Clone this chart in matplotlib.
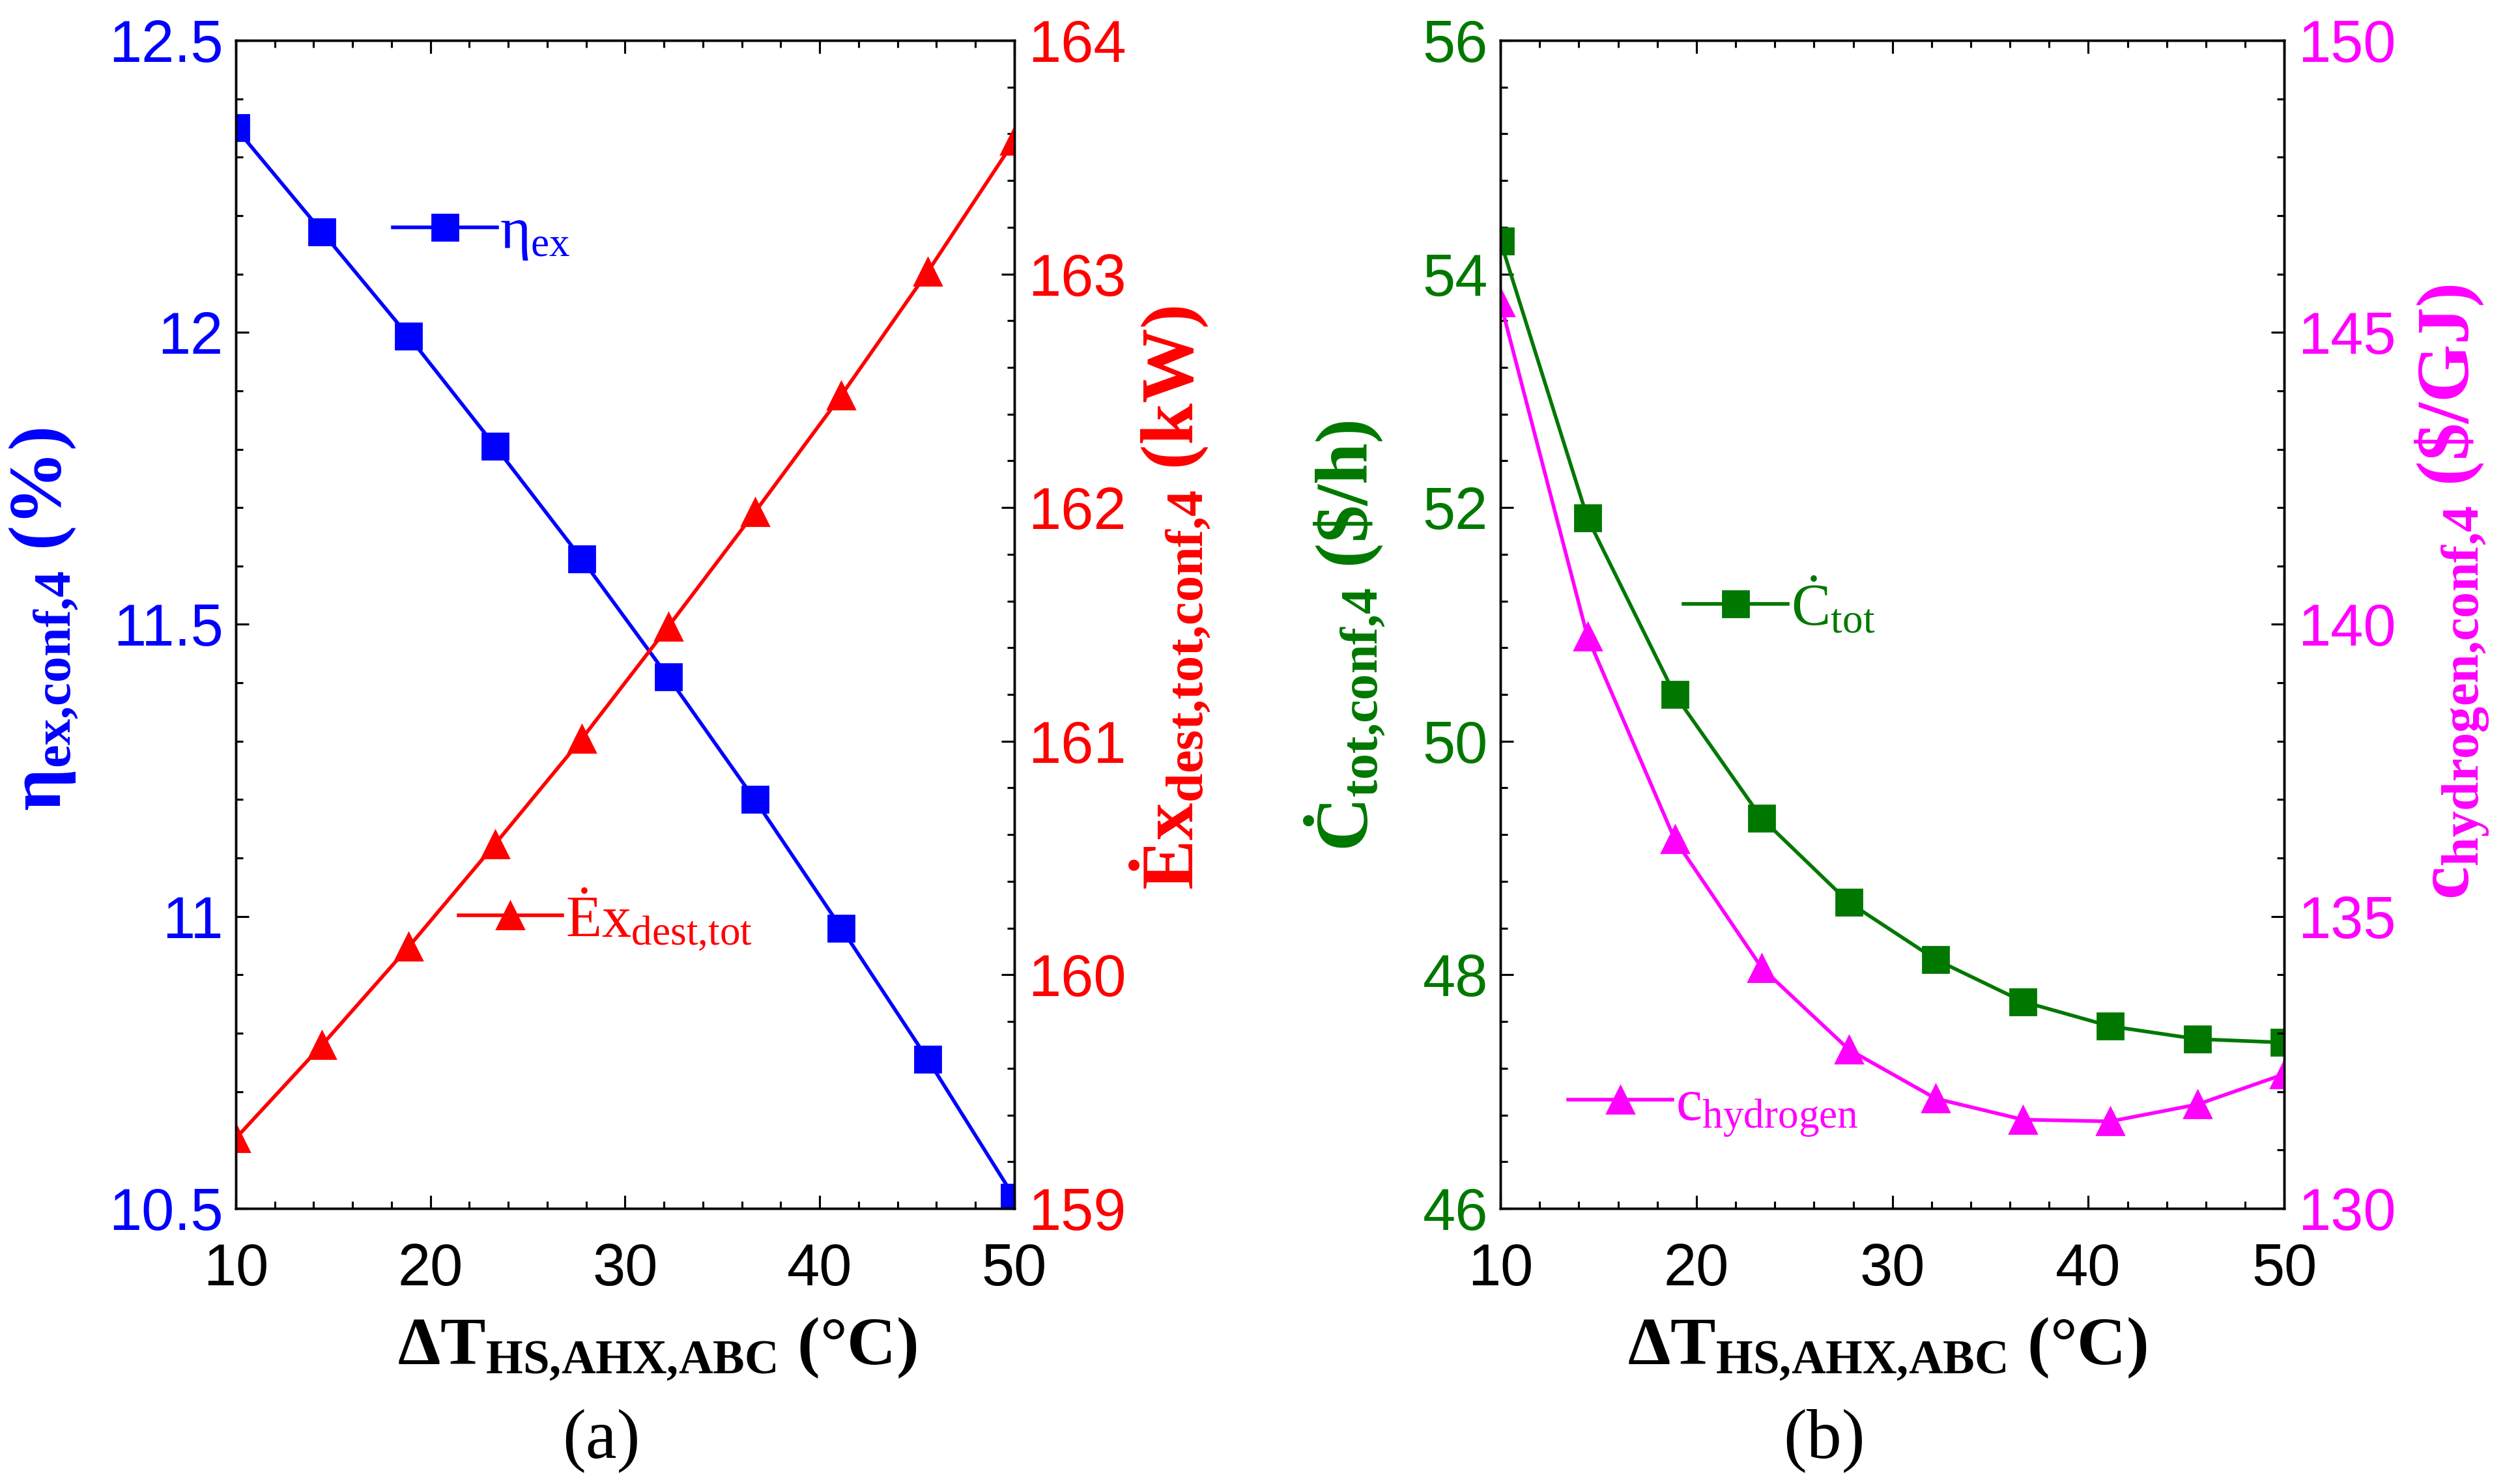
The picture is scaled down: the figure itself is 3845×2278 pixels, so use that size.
import matplotlib
matplotlib.use('Agg')
import matplotlib.pyplot as plt
from matplotlib.ticker import MultipleLocator, FuncFormatter

plt.rcParams['font.family'] = ['Liberation Sans', 'DejaVu Sans']
plt.rcParams['mathtext.fontset'] = 'custom'
plt.rcParams['mathtext.rm'] = 'Liberation Serif'
plt.rcParams['mathtext.it'] = 'Liberation Serif:italic'
plt.rcParams['mathtext.bf'] = 'Liberation Serif:bold'
plt.rcParams['mathtext.default'] = 'regular'

# data
dT = [10, 14.44, 18.89, 23.33, 27.78, 32.22, 36.67, 41.11, 45.56, 50]
eta_ex = [12.35, 12.172, 11.993, 11.805, 11.612, 11.41, 11.2, 10.98, 10.755, 10.519]
ex_dest = [159.3, 159.7, 160.12, 160.56, 161.01, 161.49, 161.98, 162.48, 163.01, 163.57]
c_tot = [54.28, 51.91, 50.4, 49.34, 48.62, 48.13, 47.77, 47.56, 47.45, 47.42]
c_h2 = [145.51, 139.79, 136.32, 134.12, 132.72, 131.88, 131.52, 131.49, 131.78, 132.3]

BLUE = '#0000FF'
RED = '#FF0000'
GREEN = '#007800'
MAGENTA = '#FF00FF'

ylab = dict(family='Liberation Serif', weight='bold', size=33)
xlab = dict(family='Liberation Serif', weight='bold', size=30)
leg_font = dict(family='Liberation Serif', size=26)
fmt = FuncFormatter(lambda v, p: f'{v:g}')


def style(ax, axr, c_left, c_right, ymaj, ymin, rmaj, rmin):
    ax.set_xlim(10, 50)
    ax.xaxis.set_major_locator(MultipleLocator(10))
    ax.xaxis.set_minor_locator(MultipleLocator(2))
    ax.yaxis.set_major_locator(MultipleLocator(ymaj))
    ax.yaxis.set_minor_locator(MultipleLocator(ymin))
    axr.yaxis.set_major_locator(MultipleLocator(rmaj))
    axr.yaxis.set_minor_locator(MultipleLocator(rmin))
    ax.yaxis.set_major_formatter(fmt)
    axr.yaxis.set_major_formatter(fmt)
    for a in (ax, axr):
        a.tick_params(which='both', direction='in', width=0.9, color='black', labelsize=26)
        a.tick_params(which='major', length=5.8)
        a.tick_params(which='minor', length=3.2)
        for s in a.spines.values():
            s.set_linewidth(1.0)
    ax.tick_params(axis='x', which='both', top=True, pad=15, labelcolor='black')
    ax.tick_params(axis='y', which='both', pad=5.5, labelcolor=c_left)
    axr.tick_params(axis='y', which='both', pad=6, labelcolor=c_right)


fig = plt.figure(figsize=(15.38, 9.112), dpi=250)
ax1 = fig.add_axes([0.0941, 0.1857, 0.3108, 0.7871])
ax1r = ax1.twinx()
ax2 = fig.add_axes([0.5990, 0.1857, 0.3129, 0.7871])
ax2r = ax2.twinx()

# (a)
ax1.plot(dT, eta_ex, color=BLUE, marker='s', ms=11.5, mew=0.8, lw=1.6, label=r'$η_{ex}$')
ax1r.plot(dT, ex_dest, color=RED, marker='^', ms=12, mew=0.8, lw=1.6, label=r'$Ėx_{dest{,}tot}$')
ax1.set_ylim(10.5, 12.5)
ax1r.set_ylim(159, 164)
style(ax1, ax1r, BLUE, RED, 0.5, 0.1, 1, 0.2)

ax1.set_ylabel(r'$η_{ex{,}conf{,}4}$ (%)', color=BLUE, **ylab)
ax1.yaxis.set_label_coords(-0.20, 0.504)
ax1r.set_ylabel(r'$Ėx_{dest{,}tot{,}conf{,}4}$ (kW)', color=RED, **ylab)
ax1r.yaxis.set_label_coords(1.146, 0.523)
ax1.set_xlabel(r'$ΔT_{HS{,}AHX{,}ABC}$ (°C)', **xlab)
ax1.xaxis.set_label_coords(0.541, -0.092)
ax1.text(0.470, -0.2136, '(a)', transform=ax1.transAxes, ha='center', va='baseline',
         family='Liberation Serif', size=31)

ax1.legend(loc='center left', bbox_to_anchor=(0.2017, 0.834), frameon=False,
           handlelength=1.77, handletextpad=0.05, borderpad=0, borderaxespad=0,
           prop=leg_font, labelcolor='linecolor')
ax1r.legend(loc='center left', bbox_to_anchor=(0.286, 0.248), frameon=False,
            handlelength=1.77, handletextpad=0.05, borderpad=0, borderaxespad=0,
            prop=leg_font, labelcolor='linecolor')

# (b)
ax2.plot(dT, c_tot, color=GREEN, marker='s', ms=11.5, mew=0.8, lw=1.6, label=r'$Ċ_{tot}$')
ax2r.plot(dT, c_h2, color=MAGENTA, marker='^', ms=12, mew=0.8, lw=1.6, label=r'$c_{hydrogen}$')
ax2.set_ylim(46, 56)
ax2r.set_ylim(130, 150)
style(ax2, ax2r, GREEN, MAGENTA, 2, 0.4, 5, 1)

ax2.set_ylabel(r'$Ċ_{tot{,}conf{,}4}$ (\$/h)', color=GREEN, **ylab)
ax2.yaxis.set_label_coords(-0.145, 0.49)
ax2r.set_ylabel(r'$c_{hydrogen{,}conf{,}4}$ (\$/GJ)', color=MAGENTA, **ylab)
ax2r.yaxis.set_label_coords(1.165, 0.528)
ax2.set_xlabel(r'$ΔT_{HS{,}AHX{,}ABC}$ (°C)', **xlab)
ax2.xaxis.set_label_coords(0.493, -0.092)
ax2.text(0.413, -0.2136, '(b)', transform=ax2.transAxes, ha='center', va='baseline',
         family='Liberation Serif', size=31)

ax2.legend(loc='center left', bbox_to_anchor=(0.2336, 0.515), frameon=False,
           handlelength=1.77, handletextpad=0.05, borderpad=0, borderaxespad=0,
           prop=leg_font, labelcolor='linecolor')
ax2r.legend(loc='center left', bbox_to_anchor=(0.0865, 0.085), frameon=False,
            handlelength=1.77, handletextpad=0.05, borderpad=0, borderaxespad=0,
            prop=leg_font, labelcolor='linecolor')

fig.savefig('out.png', dpi=250)
